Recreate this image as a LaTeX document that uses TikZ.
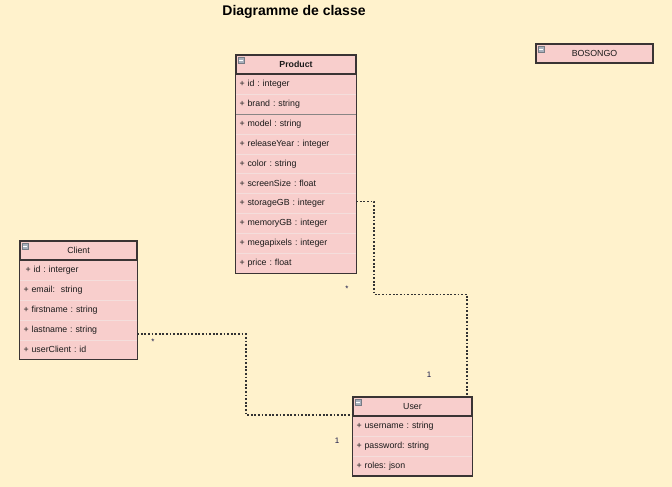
\documentclass[tikz,border=0pt]{standalone}
\usepackage{fontspec}
\setmainfont{Liberation Sans}
\frenchspacing
\usetikzlibrary{positioning, fit}
\definecolor{CPaper}{HTML}{FFF2CC}
\definecolor{CPink}{HTML}{F8CECC}
\definecolor{CFrame}{HTML}{3A3434}
\definecolor{CSep}{HTML}{F4DEDC}
\definecolor{CLine}{HTML}{333333}
\definecolor{CIcon}{HTML}{A8B0BC}
\definecolor{CText}{HTML}{1A1A1A}
\tikzset{
    classhead/.style={
        rectangle,
        fill=CPink,
        inner sep=0pt,
        inner xsep=3.5pt,
        minimum height=19pt,
        align=center,
        font=\fontsize{8.8}{10}\selectfont,
        text=CText
    },
    classrow/.style={
        rectangle,
        fill=CPink,
        inner sep=0pt,
        inner xsep=3.5pt,
        minimum height=19.5pt,
        align=left,
        font=\fontsize{8.8}{10}\selectfont,
        text=CText
    },
    headframe/.style={
        draw=CFrame,
        line width=1.8pt
    },
    classframe/.style={
        rectangle,
        draw=CFrame,
        line width=1.2pt,
        inner sep=0pt
    },
    rowsep/.style={
        draw=CSep,
        line width=0.6pt
    },
    minusicon/.style={
        rectangle,
        fill=CIcon,
        draw=CIcon!70!black,
        line width=0.3pt,
        minimum size=6.5pt,
        inner sep=0pt,
        anchor=north west,
        path picture={
            \draw[white, line width=0.9pt]
                ([xshift=1.3pt]path picture bounding box.west) --
                ([xshift=-1.3pt]path picture bounding box.east);
        }
    },
    assoc/.style={
        draw=CLine,
        line width=1.8pt,
        dash pattern=on 1.8pt off 1.8pt
    },
    mult/.style={
        font=\fontsize{8}{9}\selectfont,
        text=CText!80!blue,
        inner sep=0pt
    }
}

\begin{document}
\begin{tikzpicture}[x=1pt, y=-1pt]
    % Paper
    \fill[CPaper] (0,0) rectangle (672,487);
    \useasboundingbox (0,0) rectangle (672,487);

    % Title
    \node[font=\fontsize{14}{16}\selectfont\bfseries] (title) at (294,12) {Diagramme de classe};

    % Product
    \node[classhead, text width=113pt] (p0) at (296,64.5) {\bfseries Product};
    \foreach \t [count=\i] in {+ id : integer, + brand : string, + model : string,
        + releaseYear : integer, + color : string, + screenSize : float,
        + storageGB : integer, + memoryGB : integer, + megapixels : integer,
        + price : float} {
        \pgfmathtruncatemacro\j{\i-1}
        \node[classrow, text width=113pt, below=0pt of p\j] (p\i) {\t};
    }
    \foreach \i in {1,3,4,5,6,7,8,9}
        \draw[rowsep] (p\i.south west) -- (p\i.south east);
    \draw[CFrame!60, line width=0.8pt] (p2.south west) -- (p2.south east);
    \node[classframe, fit=(p0)(p10)] (product) {};
    \draw[headframe] (p0.north west) rectangle (p0.south east);
    \node[minusicon] (pm) at ([xshift=2pt, yshift=-2pt]p0.north west) {};

    % Client
    \node[classhead, text width=110pt] (c0) at (78.5,250.5) {Client};
    \foreach \t [count=\i] in {\hspace{2pt}+ id : interger, + email:\ \ string,
        + firstname : string, + lastname : string, + userClient : id} {
        \pgfmathtruncatemacro\j{\i-1}
        \node[classrow, text width=110pt, below=0pt of c\j] (c\i) {\t};
    }
    \foreach \i in {1,2,3,4}
        \draw[rowsep] (c\i.south west) -- (c\i.south east);
    \node[classframe, fit=(c0)(c5)] (client) {};
    \draw[headframe] (c0.north west) rectangle (c0.south east);
    \node[minusicon] (cm) at ([xshift=2pt, yshift=-2pt]c0.north west) {};

    % User
    \node[classhead, text width=112pt] (u0) at (412.5,406.5) {User};
    \foreach \t [count=\i] in {+ username : string, + password: string, + roles: json} {
        \pgfmathtruncatemacro\j{\i-1}
        \node[classrow, text width=112pt, below=0pt of u\j] (u\i) {\t};
    }
    \foreach \i in {1,2}
        \draw[rowsep] (u\i.south west) -- (u\i.south east);
    \node[classframe, fit=(u0)(u3)] (user) {};
    \draw[headframe] (u0.north west) rectangle (u0.south east);
    \node[minusicon] (um) at ([xshift=2pt, yshift=-2pt]u0.north west) {};

    % Bosongo
    \node[classhead, text width=110pt] (b0) at (594.5,53.5) {BOSONGO};
    \draw[headframe] (b0.north west) rectangle (b0.south east);
    \node[minusicon] (bm) at ([xshift=2pt, yshift=-2pt]b0.north west) {};

    % Associations
    \draw[assoc] ([yshift=2pt]p7.east) -- ++(18,0) -- ++(0,93) -| ([xshift=-5pt]u0.north east);
    \draw[assoc] ([yshift=-4.5pt]c4.east) -- ++(109,0) |- ([yshift=1pt]u0.south west);

    % Multiplicities
    \node[mult] (m1) at (347,289) {*};
    \node[mult] (m2) at (429,375) {1};
    \node[mult] (m3) at (153,342) {*};
    \node[mult] (m4) at (337,441) {1};
\end{tikzpicture}
\end{document}
